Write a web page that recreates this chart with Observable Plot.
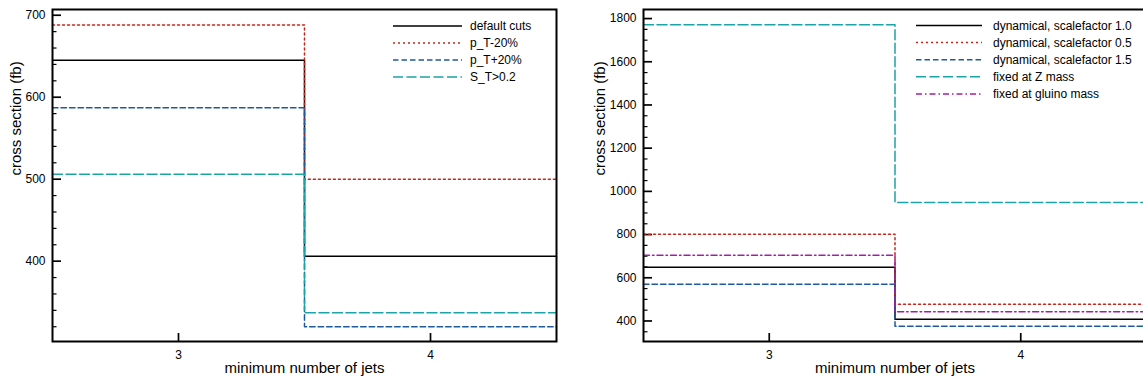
<!DOCTYPE html>
<html><head><meta charset="utf-8">
<script src="https://cdn.jsdelivr.net/npm/d3@7"></script>
<script src="https://cdn.jsdelivr.net/npm/@observablehq/plot@0.6"></script>
<style>
html,body{margin:0;padding:0;overflow:hidden;background:#fff;}
#wrap{position:relative;width:1143px;height:381px;overflow:hidden;font-family:"Liberation Sans",Arial,Helvetica,sans-serif;}
.panel{position:absolute;top:0;}
.legend{position:absolute;top:0;left:0;pointer-events:none;}
</style></head><body><div id="wrap"></div>
<script>
// ---- data ----
const njets = [3, 4];
const xTicks = [3, 4];

const leftNames = ["default cuts", "p_T-20%", "p_T+20%", "S_T>0.2"];
const leftDefault = [645, 406];
const leftPtMinus = [688, 500];
const leftPtPlus = [587, 320];
const leftST = [506, 337];
const leftYTicks = [400, 500, 600, 700];

const rightNames = ["dynamical, scalefactor 1.0", "dynamical, scalefactor 0.5", "dynamical, scalefactor 1.5", "fixed at Z mass", "fixed at gluino mass"];
const rightScale10 = [649, 408];
const rightScale05 = [801, 477];
const rightScale15 = [570, 376];
const rightZmass = [1771, 948];
const rightGluino = [704, 443];
const rightYTicks = [400, 600, 800, 1000, 1200, 1400, 1600, 1800];

const yLabel = "cross section (fb)";
const xLabel = "minimum number of jets";

// ---- styles ----
const S = {
  solid: {stroke: "#000000", dash: null},
  dotted: {stroke: "#c0281c", dash: "2,3"},
  dashed: {stroke: "#1f5b9c", dash: "5.5,3"},
  long: {stroke: "#1ca3a8", dash: "10,3.5"},
  dashdot: {stroke: "#a21ea8", dash: "6,3,1.5,3"}
};
const FONT = '"Liberation Sans", Arial, Helvetica, sans-serif';
const HEIGHT = 381, MT = 9, MB = 40;

function stepRows(values) {
  const rows = njets.map((n, i) => ({x: n - 0.5, y: values[i]}));
  rows.push({x: njets[njets.length - 1] + 0.5, y: values[values.length - 1]});
  return rows;
}

function range(a, b, s) { const r = []; for (let v = a; v <= b + 1e-9; v += s) r.push(v); return r; }

function makePanel({series, domain, yTicks, minorStep, width, marginLeft, marginRight, yLabelDx}) {
  const minor = range(Math.ceil(domain[0] / minorStep) * minorStep, domain[1], minorStep).filter(v => !yTicks.includes(v));
  const fw = width - marginLeft - marginRight;   // frame width (px)
  const fh = HEIGHT - MT - MB;                   // frame height (px)
  const marks = [
    // inward tick marks
    Plot.tickY(minor, {y: d => d, insetRight: fw - 4.5, stroke: "#000", strokeWidth: 1.2}),
    Plot.tickY(yTicks, {y: d => d, insetRight: fw - 9, stroke: "#000", strokeWidth: 1.7}),
    Plot.tickX(xTicks, {x: d => d, insetTop: fh - 8, stroke: "#000", strokeWidth: 1.7}),
    // tick labels
    Plot.axisY(yTicks, {tickSize: 0, tickPadding: 7, tickFormat: "d", fontSize: 12, label: null}),
    Plot.axisX(xTicks, {tickSize: 0, tickPadding: 9, tickFormat: "d", fontSize: 12, label: null}),
    // axis titles
    Plot.text([yLabel], {text: d => d, frameAnchor: "left", rotate: -90, dx: yLabelDx, fontSize: 15}),
    Plot.text([xLabel], {text: d => d, frameAnchor: "bottom", dy: 31, fontSize: 15}),
  ];
  for (const s of series) {
    marks.push(Plot.line(stepRows(s.values), {x: "x", y: "y", curve: "step-after", stroke: s.style.stroke, strokeWidth: 1.5, strokeDasharray: s.style.dash}));
  }
  marks.push(Plot.frame({strokeWidth: 2}));
  return Plot.plot({
    width, height: HEIGHT,
    marginLeft, marginRight, marginTop: MT, marginBottom: MB,
    x: {domain: [2.5, 4.5]},
    y: {domain},
    style: {fontFamily: FONT, fontSize: "12px", color: "#000", background: "#fff"},
    marks
  });
}

const wrap = document.getElementById("wrap");

const leftSeries = [
  {values: leftDefault, style: S.solid},
  {values: leftPtMinus, style: S.dotted},
  {values: leftPtPlus, style: S.dashed},
  {values: leftST, style: S.long}
];
const rightSeries = [
  {values: rightScale10, style: S.solid},
  {values: rightScale05, style: S.dotted},
  {values: rightScale15, style: S.dashed},
  {values: rightZmass, style: S.long},
  {values: rightGluino, style: S.dashdot}
];

const left = makePanel({series: leftSeries, domain: [302, 707], yTicks: leftYTicks, minorStep: 20, width: 570, marginLeft: 52, marginRight: 14, yLabelDx: -36});
left.classList.add("panel"); left.style.left = "0px";
wrap.appendChild(left);

const right = makePanel({series: rightSeries, domain: [305, 1842], yTicks: rightYTicks, minorStep: 50, width: 573, marginLeft: 70, marginRight: 0, yLabelDx: -43});
right.classList.add("panel"); right.style.left = "573px";
wrap.appendChild(right);

// ---- legends (inside frames) ----
function legend(names, series, x0, x1, tx, y0, dy) {
  const svg = d3.select(wrap).append("svg").attr("class", "legend").attr("width", 1143).attr("height", 381);
  names.forEach((name, i) => {
    const y = y0 + i * dy;
    svg.append("line").attr("x1", x0).attr("x2", x1).attr("y1", y).attr("y2", y)
      .attr("stroke", series[i].style.stroke).attr("stroke-width", 1.5)
      .attr("stroke-dasharray", series[i].style.dash);
    svg.append("text").attr("x", tx).attr("y", y).attr("dy", "0.35em")
      .attr("font-size", 12).attr("font-family", FONT).attr("fill", "#000").text(name);
  });
}
legend(leftNames, leftSeries, 393, 462, 470, 26, 17);
legend(rightNames, rightSeries, 916, 982, 993, 25.5, 17.1);
</script>
</body></html>
